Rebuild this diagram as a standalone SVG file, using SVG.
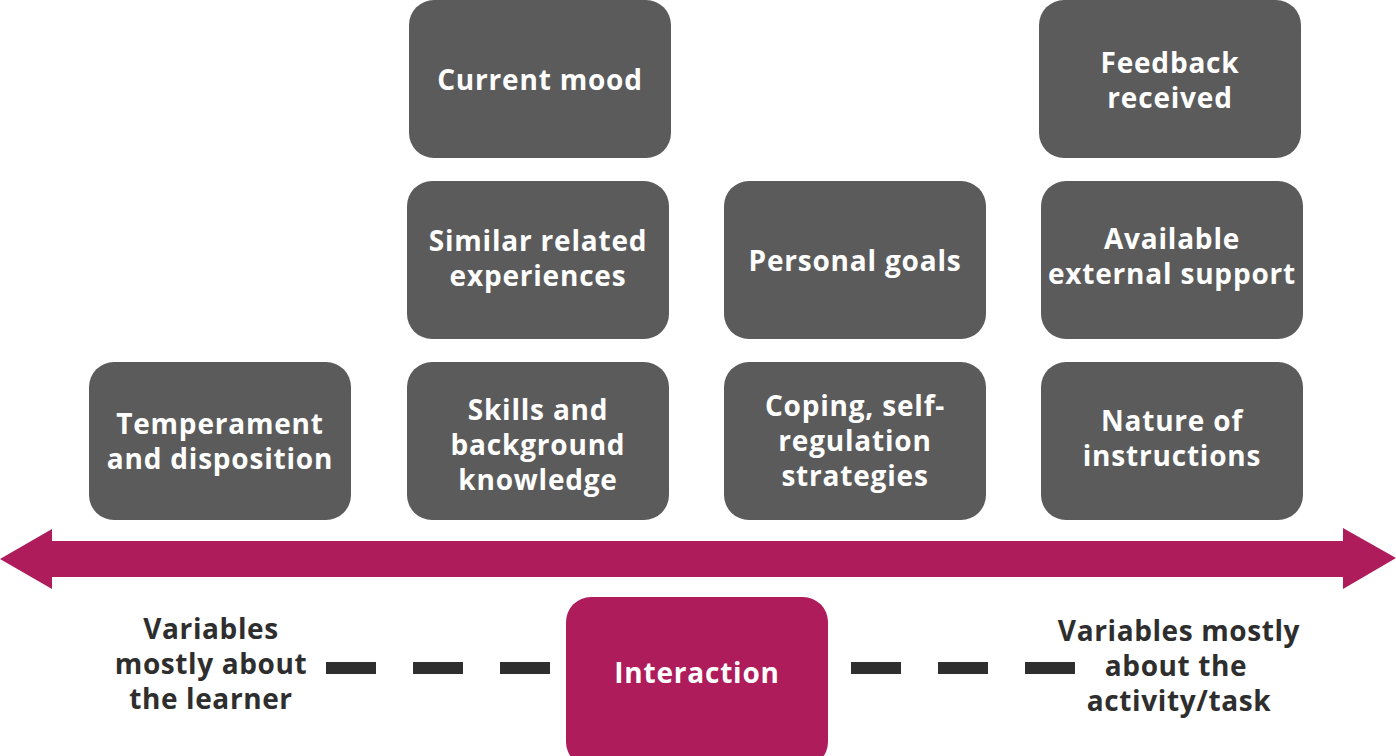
<svg xmlns="http://www.w3.org/2000/svg" width="1396" height="756" viewBox="0 0 1396 756">
<style>
.box{fill:#5b5b5b}
.t{font-family:"Open Sans","Liberation Sans",sans-serif;font-weight:700;font-size:28px;letter-spacing:0.8px;fill:#ffffff;text-anchor:middle;dominant-baseline:central}
.d{font-family:"Open Sans","Liberation Sans",sans-serif;font-weight:700;font-size:28px;letter-spacing:0.6px;fill:#2e2e2e;text-anchor:middle;dominant-baseline:central}
.dash{stroke:#2e2e2e;stroke-width:12;stroke-dasharray:50 37;fill:none}
</style>
<rect width="1396" height="756" fill="#ffffff"/>
<g id="connectors">
<polygon points="0,559 52,529 52,541 1343,541 1343,528 1396,558 1343,589 1343,577 52,577 52,589" fill="#ae1c5c"/>
<line class="dash" x1="326" y1="668" x2="551" y2="668"/>
<line class="dash" x1="851" y1="668" x2="1076" y2="668"/>
</g>
<g id="current-mood"><rect class="box" x="409" y="0" width="262" height="158" rx="25"/><text class="t" x="540" y="79">Current mood</text></g>
<g id="feedback-received"><rect class="box" x="1039" y="0" width="262" height="158" rx="25"/><text class="t" x="1170" y="62">Feedback</text><text class="t" x="1170" y="97">received</text></g>
<g id="similar-related"><rect class="box" x="407" y="181" width="262" height="158" rx="25"/><text class="t" x="538" y="240">Similar related</text><text class="t" x="538" y="275">experiences</text></g>
<g id="personal-goals"><rect class="box" x="724" y="181" width="262" height="158" rx="25"/><text class="t" x="855" y="260">Personal goals</text></g>
<g id="available-support"><rect class="box" x="1041" y="181" width="262" height="158" rx="25"/><text class="t" x="1172" y="238">Available</text><text class="t" x="1172" y="273">external support</text></g>
<g id="temperament"><rect class="box" x="89" y="362" width="262" height="158" rx="25"/><text class="t" x="220" y="423">Temperament</text><text class="t" x="220" y="458">and disposition</text></g>
<g id="skills"><rect class="box" x="407" y="362" width="262" height="158" rx="25"/><text class="t" x="538" y="409">Skills and</text><text class="t" x="538" y="444">background</text><text class="t" x="538" y="479">knowledge</text></g>
<g id="coping"><rect class="box" x="724" y="362" width="262" height="158" rx="25"/><text class="t" x="855" y="405">Coping, self-</text><text class="t" x="855" y="440">regulation</text><text class="t" x="855" y="475">strategies</text></g>
<g id="nature"><rect class="box" x="1041" y="362" width="262" height="158" rx="25"/><text class="t" x="1172" y="420">Nature of</text><text class="t" x="1172" y="455">instructions</text></g>
<g id="interaction"><rect x="566" y="597" width="262" height="170" rx="25" fill="#ae1c5c"/><text class="t" x="697" y="672">Interaction</text></g>
<g id="learner-label"><text class="d" x="211" y="628">Variables</text><text class="d" x="211" y="663">mostly about</text><text class="d" x="211" y="698">the learner</text></g>
<g id="task-label"><text class="d" x="1179" y="630">Variables mostly</text><text class="d" x="1176" y="665">about the</text><text class="d" x="1179" y="700">activity/task</text></g>
</svg>
